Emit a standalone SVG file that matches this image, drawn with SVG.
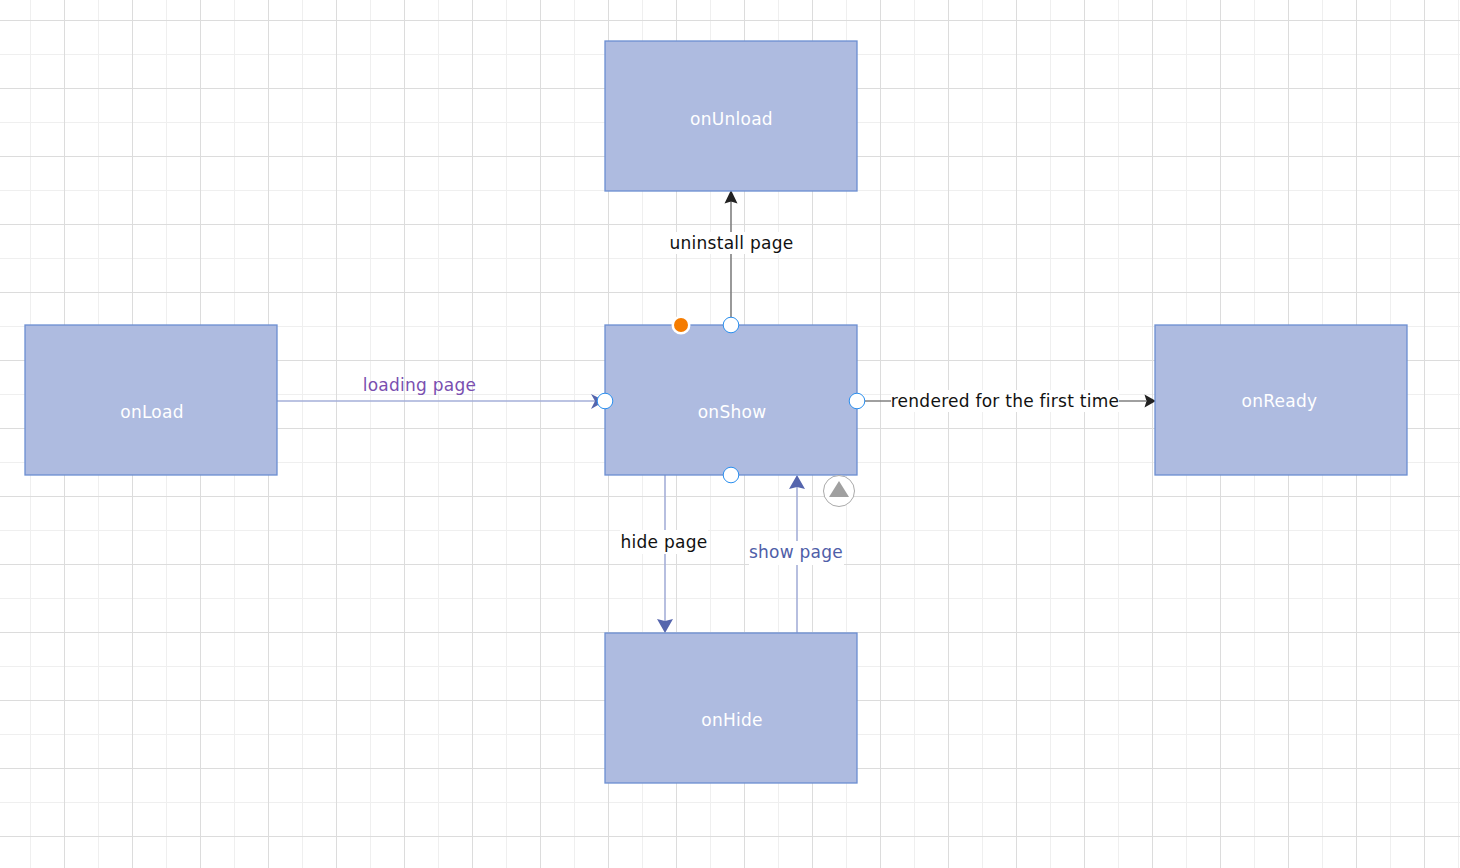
<svg xmlns="http://www.w3.org/2000/svg" width="1460" height="868" viewBox="0 0 1460 868">
<style>
.box{fill:#aebbe0;stroke:#6b8ed2;stroke-width:1.3}
text{font-family:"DejaVu Sans",Verdana,sans-serif;font-size:17px;text-anchor:middle;letter-spacing:.26px}
.nl{fill:#fff}
.lbl{fill:#111}
.bg{fill:#fff}
.blue{fill:none;stroke:#a5afd8;stroke-width:1.6}
.dark{fill:none;stroke:#808080;stroke-width:1.6}
.port{fill:#fff;stroke:#2b8fee;stroke-width:1}
</style>
<defs>
<pattern id="grid" patternUnits="userSpaceOnUse" x="30" y="20" width="68" height="68">
<path d="M0.5 0V68M0 34.5H68" fill="none" stroke="#efefef" stroke-width="1"/>
<path d="M34.5 0V68M0 0.5H68" fill="none" stroke="#dcdcdc" stroke-width="1"/>
</pattern>
</defs>
<rect width="1460" height="868" fill="#fff"/>
<rect width="1460" height="868" fill="url(#grid)"/>
<g id="connectors">
<path class="blue" d="M277 401H597"/>
<path d="M605 401L591 394L595 401L591 409Z" fill="#5565ad"/>
<path class="dark" d="M731 325V200"/>
<path d="M731 190L724.500 203.500L731 201.500L737.500 203.500Z" fill="#222"/>
<path class="dark" d="M857 401H1146"/>
<path d="M1156 401L1144.500 394.500L1146.500 401L1144.500 407.500Z" fill="#222"/>
<path class="blue" d="M665 475V622"/>
<path d="M665 633L657 619L665 621L673 619Z" fill="#5565ad"/>
<path class="blue" d="M797 633V487"/>
<path d="M797 475L789 489L797 487L805 489Z" fill="#5565ad"/>
<rect class="bg" x="668" y="232" width="127" height="22"/>
<rect class="bg" x="891" y="390" width="228" height="22"/>
<rect class="bg" x="620" y="530" width="88" height="24"/>
<rect class="bg" x="749" y="541" width="95" height="24"/>
<text class="lbl" x="731.500" y="249">uninstall page</text>
<text class="lbl" x="1005" y="407">rendered for the first time</text>
<text class="lbl" x="664" y="548">hide page</text>
<text x="796" y="558" fill="#4f5ea8">show page</text>
<text x="419.500" y="391" fill="#7a4fb0">loading page</text>
</g>
<g id="onUnload"><rect class="box" x="605" y="41" width="252" height="150"/><text class="nl" x="731.500" y="125">onUnload</text></g>
<g id="onLoad"><rect class="box" x="25" y="325" width="252" height="150"/><text class="nl" x="152" y="418">onLoad</text></g>
<g id="onShow"><rect class="box" x="605" y="325" width="252" height="150"/><text class="nl" x="732" y="418">onShow</text></g>
<g id="onReady"><rect class="box" x="1155" y="325" width="252" height="150"/><text class="nl" x="1279.500" y="407">onReady</text></g>
<g id="onHide"><rect class="box" x="605" y="633" width="252" height="150"/><text class="nl" x="732" y="726">onHide</text></g>
<g id="handles">
<circle class="port" cx="605" cy="401" r="7.800"/>
<circle class="port" cx="731" cy="325" r="7.800"/>
<circle class="port" cx="857" cy="401" r="7.800"/>
<circle class="port" cx="731" cy="475" r="7.800"/>
<circle cx="681" cy="325" r="9.500" fill="#fff"/>
<circle cx="681" cy="325" r="7" fill="#f57c00"/>
<circle cx="839" cy="491" r="15.500" fill="#fff" stroke="#aaa" stroke-width="1"/>
<path d="M839 481L849 497H829Z" fill="#a0a0a0"/>
</g>
</svg>
